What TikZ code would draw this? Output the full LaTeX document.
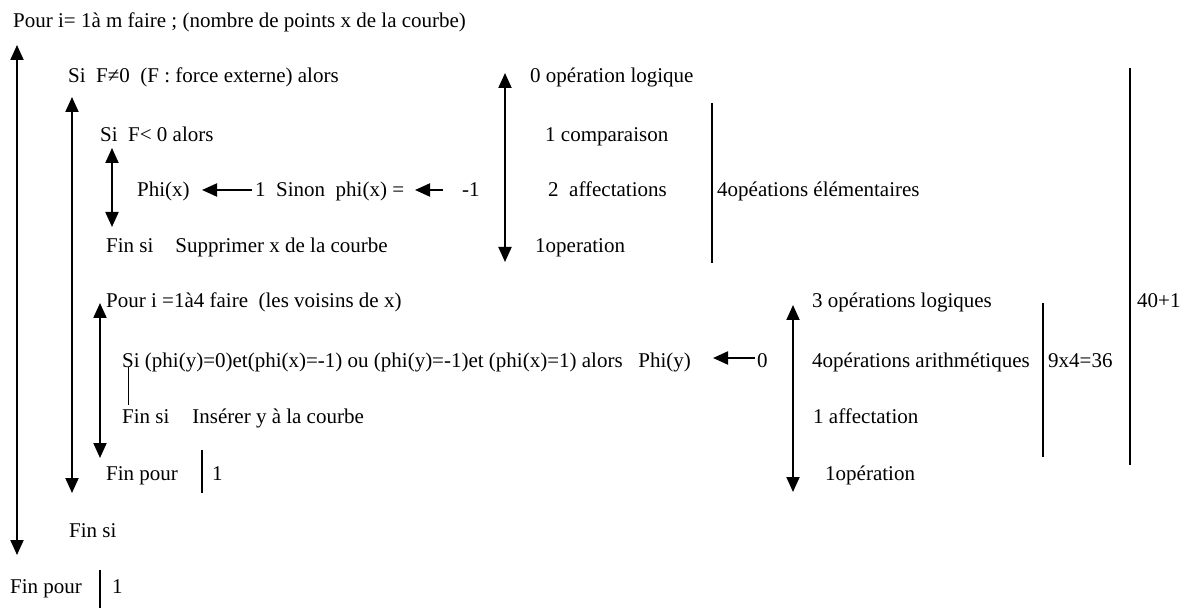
\documentclass[tikz,border=0pt]{standalone}
\usepackage{fontspec}
\setmainfont{Liberation Serif}
\usetikzlibrary{arrows.meta}
\tikzset{
  txt/.style={anchor=base west, inner sep=0pt, font=\fontsize{21}{25}\selectfont},
  dbl/.style={line width=2pt, {Triangle[length=15pt,width=13pt]}-{Triangle[length=15pt,width=13pt]}},
  lft/.style={line width=2pt, -{Triangle[length=15pt,width=13pt]}},
  bar/.style={line width=2pt},
  thin/.style={line width=1pt}
}
\begin{document}
\begin{tikzpicture}[x=1pt,y=-1pt]
\useasboundingbox (0,0) rectangle (1191,609);
% texts
\node[txt] (t1) at (13,28) {Pour i= 1à m faire ; (nombre de points x de la courbe)};
\node[txt] (t2) at (68,83) {Si\ \ F≠0\ \ (F : force externe) alors};
\node[txt] (t3) at (100,142) {Si\ \ F< 0 alors};
\node[txt] (t4) at (137,197) {Phi(x)};
\node[txt] (t5) at (255,197) {1\ \ Sinon\ \ phi(x) =};
\node[txt] (t6) at (462,197) {-1};
\node[txt] (t7) at (106,253) {Fin si\hspace{22pt}Supprimer x de la courbe};
\node[txt] (t8) at (530,83) {0 opération logique};
\node[txt] (t9) at (545,142) {1 comparaison};
\node[txt] (t10) at (548,197) {2\ \ affectations};
\node[txt] (t11) at (535,253) {1operation};
\node[txt] (t12) at (717,197) {4opéations élémentaires};
\node[txt] (t13) at (106,308) {Pour i =1à4 faire\ \ (les voisins de x)};
\node[txt] (t14) at (122,367) {Si (phi(y)=0)et(phi(x)=-1) ou (phi(y)=-1)et (phi(x)=1) alors\ \ \ Phi(y)};
\node[txt] (t15) at (757,367) {0};
\node[txt] (t16) at (122,423) {Fin si\hspace{23pt}Insérer y à la courbe};
\node[txt] (t17) at (106,480) {Fin pour};
\node[txt] (t17b) at (212,480) {1};
\node[txt] (t18) at (812,308) {3 opérations logiques};
\node[txt] (t19) at (812,367) {4opérations arithmétiques};
\node[txt] (t20) at (813,423) {1 affectation};
\node[txt] (t21) at (825,480) {1opération};
\node[txt] (t22) at (1048,367) {9x4=36};
\node[txt] (t23) at (1137,308) {40+1};
\node[txt] (t24) at (69,537) {Fin si};
\node[txt] (t25) at (10,593) {Fin pour};
\node[txt] (t25b) at (112,593) {1};
% coordinates
\coordinate (a1t) at (17,45);   \coordinate (a1b) at (17,555);
\coordinate (a2t) at (72,97);   \coordinate (a2b) at (72,493);
\coordinate (a3t) at (112,148); \coordinate (a3b) at (112,227);
\coordinate (a4t) at (505,73);  \coordinate (a4b) at (505,262);
\coordinate (a5t) at (100,303); \coordinate (a5b) at (100,458);
\coordinate (a6t) at (793,305); \coordinate (a6b) at (793,492);
\coordinate (h1s) at (252,190); \coordinate (h1e) at (202,190);
\coordinate (h2s) at (443,190); \coordinate (h2e) at (415,190);
\coordinate (h3s) at (755,358); \coordinate (h3e) at (713,358);
\coordinate (b1t) at (712,103); \coordinate (b1b) at (712,263);
\coordinate (b2t) at (1043,303); \coordinate (b2b) at (1043,457);
\coordinate (b3t) at (1130,68); \coordinate (b3b) at (1130,465);
\coordinate (b4t) at (202,450); \coordinate (b4b) at (202,493);
\coordinate (b5t) at (100,570); \coordinate (b5b) at (100,608);
\coordinate (l1t) at (128,367); \coordinate (l1b) at (128,405);
% connectors
\draw[dbl] (a1t) -- (a1b);
\draw[dbl] (a2t) -- (a2b);
\draw[dbl] (a3t) -- (a3b);
\draw[dbl] (a4t) -- (a4b);
\draw[dbl] (a5t) -- (a5b);
\draw[dbl] (a6t) -- (a6b);
\draw[lft] (h1s) -- (h1e);
\draw[lft] (h2s) -- (h2e);
\draw[lft] (h3s) -- (h3e);
\draw[bar] (b1t) -- (b1b);
\draw[bar] (b2t) -- (b2b);
\draw[bar] (b3t) -- (b3b);
\draw[bar] (b4t) -- (b4b);
\draw[bar] (b5t) -- (b5b);
\draw[thin] (l1t) -- (l1b);
\end{tikzpicture}
\end{document}
